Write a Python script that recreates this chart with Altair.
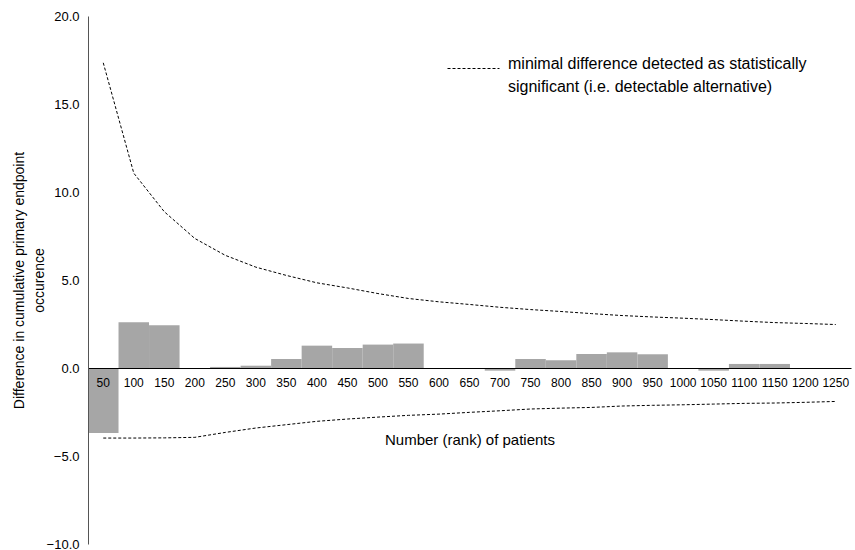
import altair as alt
import pandas as pd

# Cumulative difference in primary endpoint occurrence per block of patients
patients = [50, 100, 150, 200, 250, 300, 350, 400, 450, 500, 550, 600, 650,
            700, 750, 800, 850, 900, 950, 1000, 1050, 1100, 1150, 1200, 1250]
difference = [-3.70, 2.60, 2.43, 0.00, 0.06, 0.13, 0.51, 1.27, 1.14, 1.33, 1.39, 0.00, 0.00,
              -0.15, 0.51, 0.44, 0.80, 0.89, 0.78, 0.00, -0.15, 0.23, 0.23, 0.00, 0.00]

# Minimal detectable difference (upper and lower boundaries)
upper_bound = [17.34, 11.07, 8.88, 7.36, 6.40, 5.73, 5.26, 4.84, 4.55, 4.23, 3.95, 3.76, 3.61,
               3.45, 3.32, 3.21, 3.09, 2.98, 2.90, 2.83, 2.75, 2.66, 2.58, 2.53, 2.47]
lower_bound = [-3.98, -3.98, -3.97, -3.94, -3.66, -3.41, -3.22, -3.03, -2.90, -2.79, -2.69, -2.62, -2.52,
               -2.43, -2.33, -2.28, -2.24, -2.16, -2.12, -2.09, -2.05, -2.01, -1.99, -1.95, -1.90]

bound_label = "minimal difference detected as statistically|significant (i.e. detectable alternative)"
y_title = ["Difference in cumulative primary endpoint", "occurence"]
x_title = "Number (rank) of patients"
y_ticks = [-10, -5, 0, 5, 10, 15, 20]

Y_MIN, Y_MAX = -10, 20
PLOT_W, PLOT_H = 763, 528
FONT = "Liberation Sans"

bars_df = pd.DataFrame({"n": patients, "diff": difference})
lines_df = pd.concat([
    pd.DataFrame({"n": patients, "value": upper_bound, "bound": "upper"}),
    pd.DataFrame({"n": patients, "value": lower_bound, "bound": "lower"}),
], ignore_index=True)
lines_df["series"] = bound_label

# the category axis sits on the zero line
zero_offset = -PLOT_H * (0 - Y_MIN) / (Y_MAX - Y_MIN)

x_scale = alt.Scale(paddingInner=0, paddingOuter=0)
y_scale = alt.Scale(domain=[Y_MIN, Y_MAX], nice=False)

bars = alt.Chart(bars_df).mark_bar(color="#a6a6a6").encode(
    x=alt.X("n:O", scale=x_scale, sort=patients,
            axis=alt.Axis(title=x_title, labelAngle=0, ticks=False, labelPadding=9,
                          labelFontSize=12, labelColor="black", labelOverlap=False,
                          domainColor="black", domainWidth=1,
                          titleFontSize=15, titleFontWeight="normal", titleColor="black",
                          titlePadding=44, offset=zero_offset, zindex=1)),
    y=alt.Y("diff:Q", scale=y_scale,
            axis=alt.Axis(values=y_ticks, format=".1f", ticks=False, grid=False,
                          labelPadding=9, labelFontSize=13, labelColor="black",
                          labelFlush=False,
                          domainColor="#555555", domainWidth=1,
                          title=y_title, titleFontSize=14, titleFontWeight="normal",
                          titleColor="black", titleLineHeight=20, titlePadding=0,
                          zindex=1)),
)

lines = alt.Chart(lines_df).mark_line(color="black", strokeWidth=1).encode(
    x=alt.X("n:O", sort=patients),
    y=alt.Y("value:Q"),
    detail="bound:N",
    strokeDash=alt.StrokeDash(
        "series:N",
        scale=alt.Scale(range=[[3, 2]]),
        legend=alt.Legend(title=None, orient="none", legendX=359, legendY=26,
                          symbolType="stroke", symbolSize=2704, symbolStrokeWidth=1,
                          symbolStrokeColor="black", symbolDash=[3, 2],
                          labelExpr="split(datum.label, '|')",
                          labelBaseline="alphabetic",
                          labelFontSize=16, labelColor="black", labelOffset=8,
                          labelLimit=500, padding=0),
    ),
)

chart = (
    alt.layer(bars, lines)
    .properties(width=PLOT_W, height=PLOT_H,
                padding={"left": 88, "top": 16, "right": 4, "bottom": 6},
                autosize=alt.AutoSizeParams(type="none"))
    .configure(font=FONT, style={"guide-label": {"lineHeight": 23}})
    .configure_view(stroke=None)
)

chart.save("out.html", embed_options={"renderer": "svg", "actions": False})
